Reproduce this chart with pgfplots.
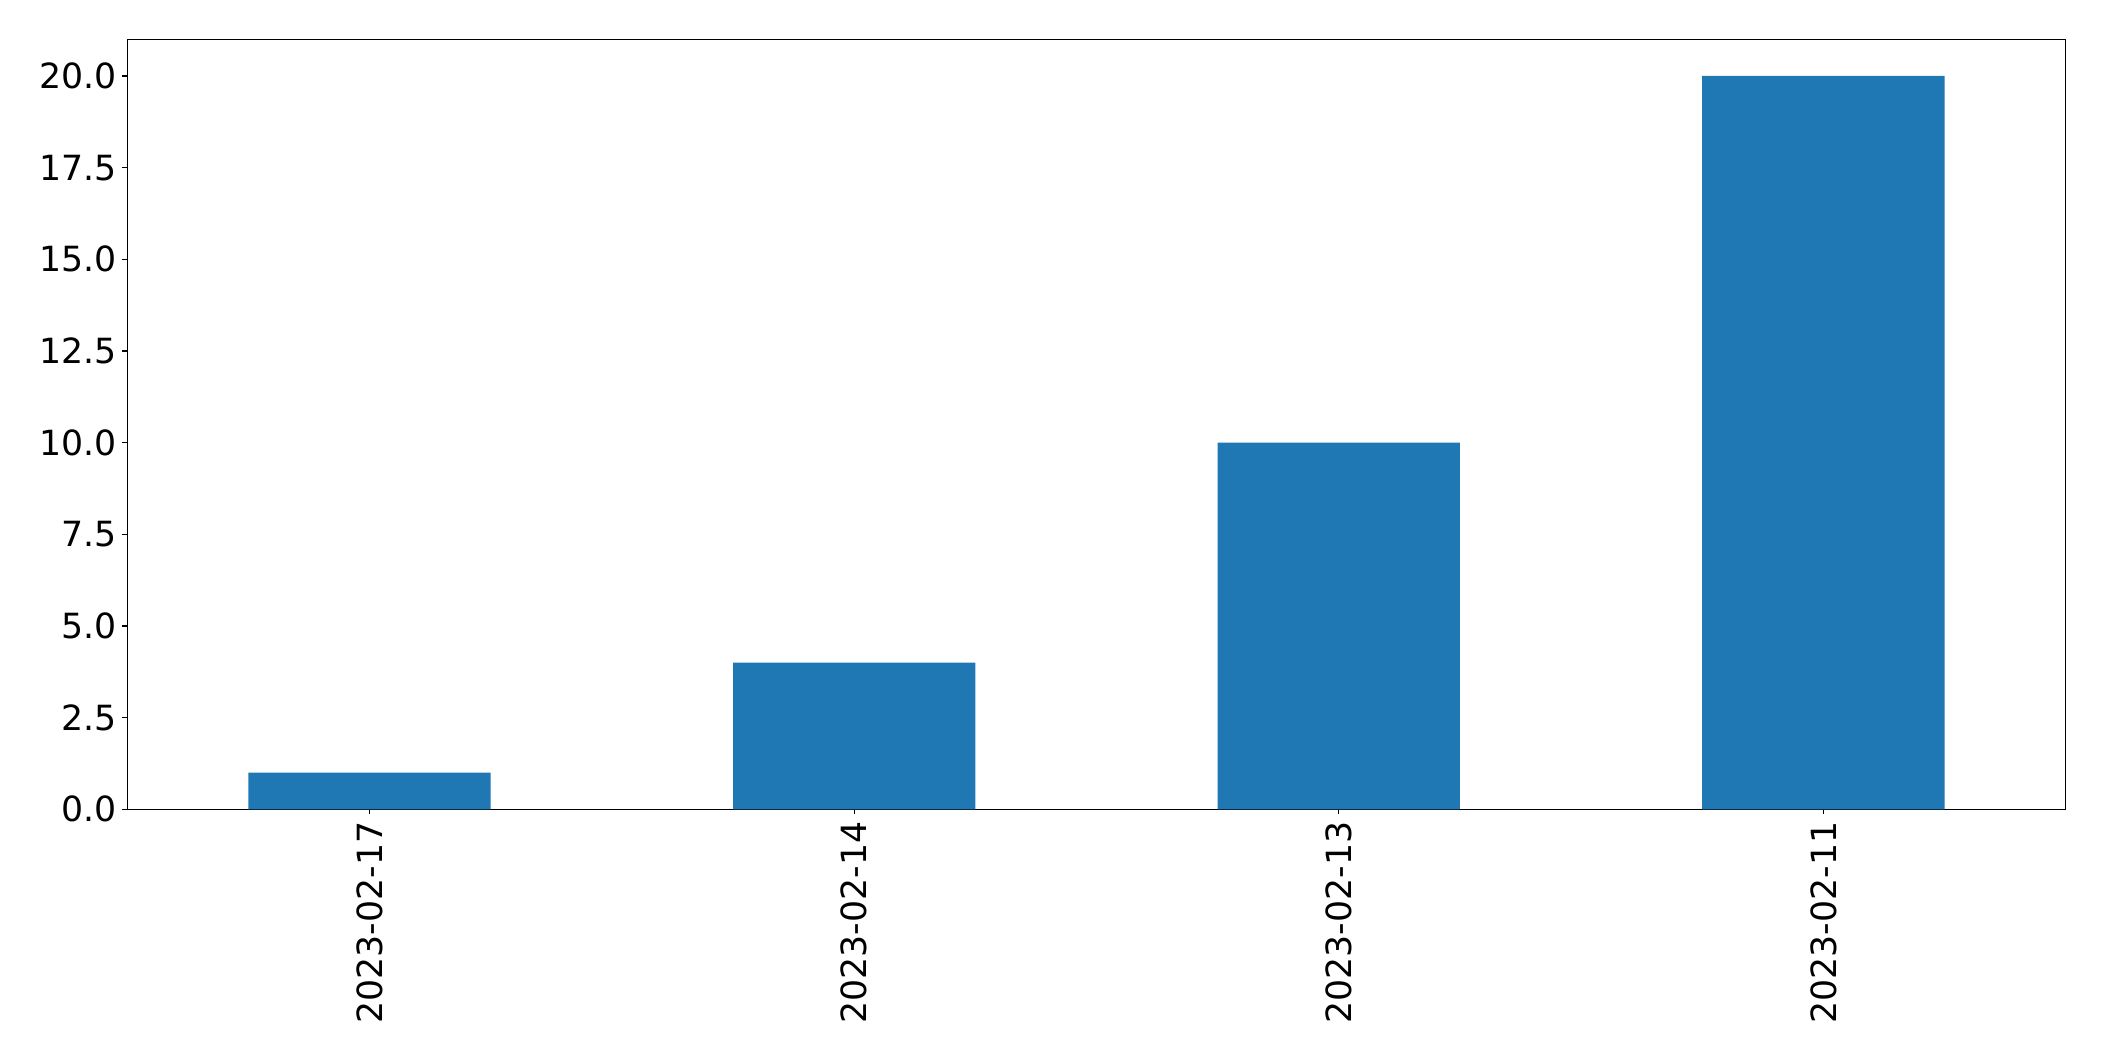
\documentclass[border=0pt]{standalone}
\usepackage{pgfplots}
\pgfplotsset{compat=1.18}
\usepackage{fontspec}
\setmainfont{DejaVu Sans}
\definecolor{mplblue}{HTML}{1F77B4}
\begin{document}
\begin{tikzpicture}
\useasboundingbox (0,0) rectangle (2104bp,1061bp);
\begin{axis}[
  at={(127.3bp,251.7bp)}, anchor=south west,
  scale only axis, width=1938.4bp, height=770bp,
  xmin=-0.5, xmax=3.5, ymin=0, ymax=21,
  xtick={0,1,2,3},
  xticklabels={2023-02-17,2023-02-14,2023-02-13,2023-02-11},
  ytick={0,2.5,5,7.5,10,12.5,15,17.5,20},
  yticklabel style={/pgf/number format/fixed,/pgf/number format/fixed zerofill,/pgf/number format/precision=1},
  /pgf/number format/assume math mode=true,
  tick align=outside, tick pos=left,
  major tick length=4.86bp,
  every tick/.style={black, line width=1.11bp},
  axis line style={line width=1.11bp},
  tick label style={font=\fontsize{34.7bp}{40bp}\selectfont},
  xticklabel style={rotate=90, anchor=east, inner sep=0pt, outer sep=0pt},
  xticklabel shift=7.5bp,
  yticklabel style={inner sep=0pt, outer sep=0pt},
  yticklabel shift=5.5bp,
  ybar, bar width=242.3bp,
]
\addplot[fill=mplblue, draw=none] coordinates {(0,1) (1,4) (2,10) (3,20)};
\end{axis}
\end{tikzpicture}
\end{document}
